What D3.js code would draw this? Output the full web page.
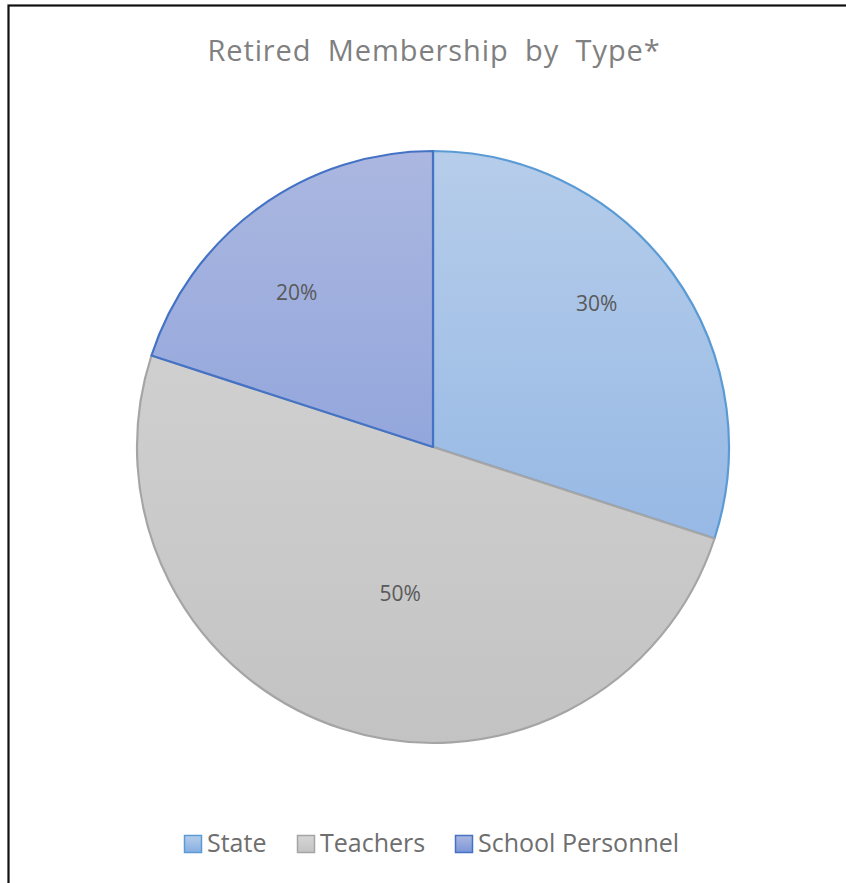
<!DOCTYPE html>
<html>
<head>
<meta charset="utf-8">
<script src="https://cdn.jsdelivr.net/npm/d3@7"></script>
<style>
  html, body { margin: 0; padding: 0; background: #fff; }
  svg { display: block; }
</style>
</head>
<body>
<svg id="chart" width="846" height="883"></svg>
<script>
// Retired membership shares by member type
const categories = ["State", "Teachers", "School Personnel"];
const shares = [30, 50, 20];
const title = "Retired Membership by Type*";

const W = 846, H = 883;
const cx = 433, cy = 447, R = 296;

// gradient stops per slice (top → bottom of the pie) and outline colours
const fills = [
  ["#b6cdea", "#86aee2"],
  ["#d6d6d6", "#c3c3c3"],
  ["#abb7e0", "#7c96d8"]
];
const strokes = ["#5b9bd5", "#a5a5a5", "#4472c4"];

// label placement: angular shift (deg) and radius fraction per slice
const labelShift = -5.4;
const labelRadius = [0.737, 0.507, 0.697];

const svg = d3.select("#chart");

// outer frame
svg.append("rect")
  .attr("x", 8.5).attr("y", 5.5)
  .attr("width", W + 20).attr("height", H + 20)
  .attr("fill", "none").attr("stroke", "#111").attr("stroke-width", 2.2);

const defs = svg.append("defs");
fills.forEach((f, i) => {
  const g = defs.append("linearGradient")
    .attr("id", "grad" + i)
    .attr("gradientUnits", "userSpaceOnUse")
    .attr("x1", 0).attr("y1", -R).attr("x2", 0).attr("y2", R);
  g.append("stop").attr("offset", "0%").attr("stop-color", f[0]);
  g.append("stop").attr("offset", "100%").attr("stop-color", f[1]);
});

const font = "'Open Sans', 'Noto Sans', sans-serif";

// title
svg.append("text")
  .attr("x", 434).attr("y", 61)
  .attr("text-anchor", "middle")
  .attr("font-family", font)
  .attr("font-size", 29)
  .attr("letter-spacing", 0.9)
  .attr("word-spacing", 8)
  .attr("fill", "#808080")
  .text(title);

const pie = d3.pie().sort(null).value(d => d)(shares);
const arc = d3.arc().innerRadius(0).outerRadius(R);

const g = svg.append("g").attr("transform", `translate(${cx},${cy})`);

// draw State, Teachers, then School Personnel on top
g.selectAll("path.slice")
  .data(pie)
  .join("path")
  .attr("class", "slice")
  .attr("d", arc)
  .attr("fill", (d, i) => `url(#grad${i})`)
  .attr("stroke", (d, i) => strokes[i])
  .attr("stroke-width", 2.2)
  .attr("stroke-linejoin", "round");

// percentage labels
const total = d3.sum(shares);
g.selectAll("text.pct")
  .data(pie)
  .join("text")
  .attr("class", "pct")
  .each(function (d, i) {
    const a = (d.startAngle + d.endAngle) / 2 + labelShift * Math.PI / 180;
    const r = labelRadius[i] * R;
    d3.select(this)
      .attr("x", r * Math.sin(a))
      .attr("y", -r * Math.cos(a));
  })
  .attr("text-anchor", "middle")
  .attr("dominant-baseline", "central")
  .attr("font-family", font)
  .attr("font-size", 21)
  .attr("fill", "#595959")
  .text(d => Math.round(d.value / total * 100) + "%");

// legend
const legendX = [184, 297, 455];
const legend = svg.append("g").attr("transform", "translate(0,835)");
categories.forEach((c, i) => {
  const lg = defs.append("linearGradient").attr("id", "lg" + i)
    .attr("x1", 0).attr("y1", 0).attr("x2", 0).attr("y2", 1);
  lg.append("stop").attr("offset", "0%").attr("stop-color", fills[i][0]);
  lg.append("stop").attr("offset", "100%").attr("stop-color", fills[i][1]);
  const item = legend.append("g").attr("transform", `translate(${legendX[i]},0)`);
  item.append("rect")
    .attr("x", 0.5).attr("y", 0.5).attr("width", 17).attr("height", 17)
    .attr("fill", `url(#lg${i})`)
    .attr("stroke", strokes[i]).attr("stroke-width", 1.5);
  item.append("text")
    .attr("x", 23).attr("y", 17)
    .attr("font-family", font)
    .attr("font-size", 25)
    .attr("fill", "#6e6e6e")
    .text(c);
});
</script>
</body>
</html>
